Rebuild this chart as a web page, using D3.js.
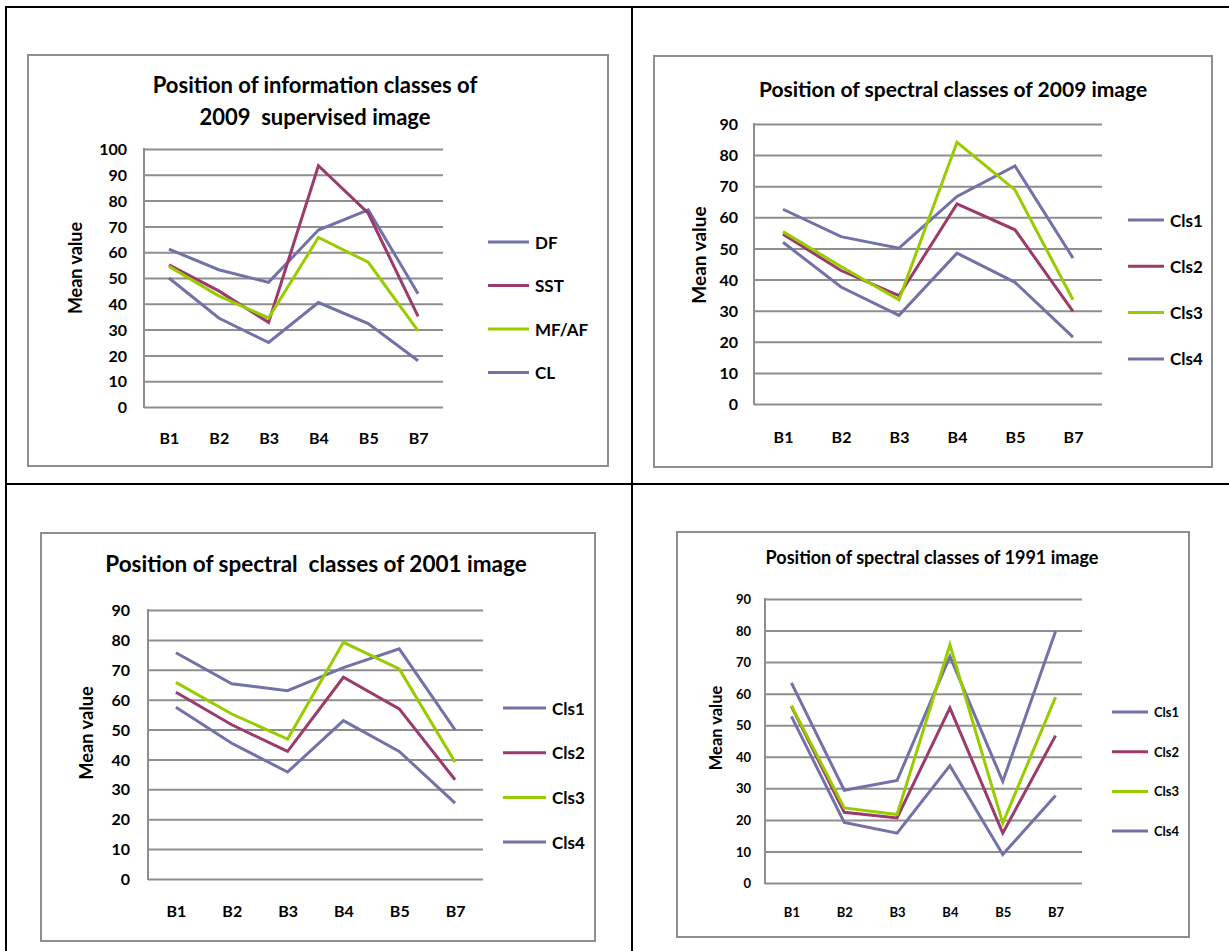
<!DOCTYPE html>
<html>
<head>
<meta charset="utf-8">
<script src="https://cdn.jsdelivr.net/npm/d3@7"></script>
<style>
  body { margin: 0; background: #fff; }
  svg text { font-family: Lato, "Open Sans", sans-serif; font-weight: bold; fill: #000; }
</style>
</head>
<body>
<svg id="page" width="1229" height="951"></svg>
<script>
// categories and series
const bands = ["B1", "B2", "B3", "B4", "B5", "B7"];
const infoClasses = ["DF", "SST", "MF/AF", "CL"];
const spectralClasses = ["Cls1", "Cls2", "Cls3", "Cls4"];

// Position of information classes of 2009 supervised image
const df2009 = [61.2, 53.2, 48.3, 68.6, 76.4, 43.9];
const sst2009 = [55.1, 45.0, 32.8, 93.5, 75.1, 35.1];
const mfaf2009 = [54.5, 43.1, 34.5, 65.7, 56.1, 29.5];
const cl2009 = [50.0, 34.5, 25.0, 40.5, 32.3, 17.9];

// Position of spectral classes of 2009 image
const cls1_2009 = [62.6, 53.8, 50.1, 66.7, 76.5, 46.9];
const cls2_2009 = [54.6, 42.9, 34.8, 64.3, 56.0, 29.8];
const cls3_2009 = [55.4, 44.2, 33.5, 84.1, 68.8, 33.5];
const cls4_2009 = [52.0, 37.6, 28.5, 48.5, 39.1, 21.5];

// Position of spectral classes of 2001 image
const cls1_2001 = [75.7, 65.3, 63.0, 70.7, 77.0, 49.9];
const cls2_2001 = [62.5, 51.6, 42.7, 67.5, 56.9, 33.2];
const cls3_2001 = [65.8, 55.2, 46.8, 79.2, 70.3, 39.1];
const cls4_2001 = [57.5, 45.4, 35.8, 53.0, 42.7, 25.4];

// Position of spectral classes of 1991 image
const cls1_1991 = [63.4, 29.4, 32.5, 71.8, 32.2, 79.8];
const cls2_1991 = [56.0, 22.4, 20.6, 55.5, 15.8, 46.7];
const cls3_1991 = [56.2, 23.8, 21.7, 75.5, 19.0, 58.9];
const cls4_1991 = [52.8, 19.2, 15.8, 37.2, 9.0, 27.7];

const ticks100 = [0, 10, 20, 30, 40, 50, 60, 70, 80, 90, 100];
const ticks90 = [0, 10, 20, 30, 40, 50, 60, 70, 80, 90];

const colors = ["#7272a8", "#9b3b6b", "#99cc00", "#7272a8"];

const svg = d3.select("#page");

// table borders
svg.append("g")
    .attr("stroke", "#000")
    .attr("stroke-width", 2)
    .selectAll("line")
    .data([[6, 7, 1229, 7], [6, 484, 1229, 484], [6, 6, 6, 951], [632, 6, 632, 951]])
    .join("line")
    .attr("x1", d => d[0]).attr("y1", d => d[1])
    .attr("x2", d => d[2]).attr("y2", d => d[3]);

function drawChart(c) {
    const g = svg.append("g");

    g.append("rect")
        .attr("x", c.box[0]).attr("y", c.box[1])
        .attr("width", c.box[2]).attr("height", c.box[3])
        .attr("fill", "#fff")
        .attr("stroke", "#8e8e8e")
        .attr("stroke-width", 2);

    c.title.forEach((t, i) => {
        g.append("text")
            .attr("x", c.titleX)
            .attr("y", c.titleY + i * c.titleGap)
            .attr("text-anchor", "middle")
            .attr("dominant-baseline", "central")
            .style("font-size", c.titleSize + "px")
            .style("white-space", "pre")
            .text(t);
    });

    const x = d3.scalePoint()
        .domain(bands)
        .range([c.plot[0], c.plot[2]])
        .padding(0.5);

    const y = d3.scaleLinear()
        .domain([0, c.ymax])
        .range([c.plot[3], c.plot[1]]);

    // gridlines
    g.append("g")
        .attr("transform", `translate(${c.plot[0]},0)`)
        .call(d3.axisLeft(y).tickValues(c.ticks).tickSize(-(c.plot[2] - c.plot[0])).tickFormat(""))
        .call(a => a.select(".domain").remove())
        .selectAll("line")
        .attr("stroke", "#8e8e8e")
        .attr("stroke-width", 2);

    g.append("line")
        .attr("x1", c.plot[0]).attr("x2", c.plot[0])
        .attr("y1", c.plot[1] - 1).attr("y2", c.plot[3] + 1)
        .attr("stroke", "#8e8e8e")
        .attr("stroke-width", 2);

    // y tick labels
    g.append("g")
        .attr("transform", `translate(${c.plot[0] - c.tickPad},0)`)
        .call(d3.axisLeft(y).tickValues(c.ticks).tickSize(0).tickPadding(0))
        .call(a => a.select(".domain").remove())
        .selectAll("text")
        .attr("dy", "0.35em")
        .style("font-size", c.tickSize + "px");

    // x labels
    g.append("g")
        .attr("transform", `translate(0,${c.xLabelY})`)
        .call(d3.axisBottom(x).tickSize(0).tickPadding(0))
        .call(a => a.select(".domain").remove())
        .selectAll("text")
        .attr("dy", "0.35em")
        .style("font-size", c.tickSize + "px");

    g.append("text")
        .attr("transform", `translate(${c.yTitleX},${c.yTitleY}) rotate(-90)`)
        .attr("text-anchor", "middle")
        .attr("dominant-baseline", "central")
        .style("font-size", c.yTitleSize + "px")
        .text("Mean value");

    const line = d3.line()
        .x((d, i) => x(bands[i]))
        .y(d => y(d));

    g.selectAll(".series")
        .data(c.series)
        .join("path")
        .attr("fill", "none")
        .attr("stroke", (d, i) => colors[i])
        .attr("stroke-width", 3)
        .attr("stroke-linejoin", "miter")
        .attr("d", d => line(d));

    // legend
    const lg = g.selectAll(".legend")
        .data(c.names)
        .join("g")
        .attr("transform", (d, i) => `translate(${c.legendX},${c.legendY + i * c.legendGap})`);
    lg.append("line")
        .attr("x1", 0).attr("x2", c.legendLen)
        .attr("stroke", (d, i) => colors[i])
        .attr("stroke-width", 3);
    lg.append("text")
        .attr("x", c.legendLen + 6)
        .attr("dominant-baseline", "central")
        .style("font-size", c.legendSize + "px")
        .text(d => d);
}

drawChart({
    box: [28, 55, 580, 411],
    title: ["Position of information classes of", "2009  supervised image"],
    titleX: 315, titleY: 84, titleGap: 32, titleSize: 22,
    plot: [144, 149, 443, 407], ymax: 100, ticks: ticks100,
    tickPad: 17, tickSize: 16, xLabelY: 438,
    yTitleX: 75, yTitleY: 268, yTitleSize: 18,
    names: infoClasses, series: [df2009, sst2009, mfaf2009, cl2009],
    legendX: 488, legendY: 242, legendGap: 43.5, legendLen: 41, legendSize: 17
});

drawChart({
    box: [654, 56, 558, 411],
    title: ["Position of spectral classes of 2009 image"],
    titleX: 953, titleY: 88, titleGap: 0, titleSize: 21,
    plot: [754, 124, 1102, 404], ymax: 90, ticks: ticks90,
    tickPad: 16, tickSize: 16, xLabelY: 437,
    yTitleX: 698, yTitleY: 255, yTitleSize: 19,
    names: spectralClasses, series: [cls1_2009, cls2_2009, cls3_2009, cls4_2009],
    legendX: 1128, legendY: 220, legendGap: 46.3, legendLen: 36, legendSize: 17
});

drawChart({
    box: [41, 533, 554, 408],
    title: ["Position of spectral  classes of 2001 image"],
    titleX: 316, titleY: 563, titleGap: 0, titleSize: 22.5,
    plot: [148, 610, 483, 879], ymax: 90, ticks: ticks90,
    tickPad: 18, tickSize: 16, xLabelY: 911,
    yTitleX: 86, yTitleY: 733, yTitleSize: 18.3,
    names: spectralClasses, series: [cls1_2001, cls2_2001, cls3_2001, cls4_2001],
    legendX: 503, legendY: 708, legendGap: 44.7, legendLen: 43, legendSize: 17
});

drawChart({
    box: [677, 532, 512, 405],
    title: ["Position of spectral classes of 1991 image"],
    titleX: 932, titleY: 557, titleGap: 0, titleSize: 18,
    plot: [765, 599, 1082, 883], ymax: 90, ticks: ticks90,
    tickPad: 14, tickSize: 13, xLabelY: 912,
    yTitleX: 716, yTitleY: 728, yTitleSize: 16.5,
    names: spectralClasses, series: [cls1_1991, cls2_1991, cls3_1991, cls4_1991],
    legendX: 1112, legendY: 712, legendGap: 39.7, legendLen: 36, legendSize: 13
});
</script>
</body>
</html>
